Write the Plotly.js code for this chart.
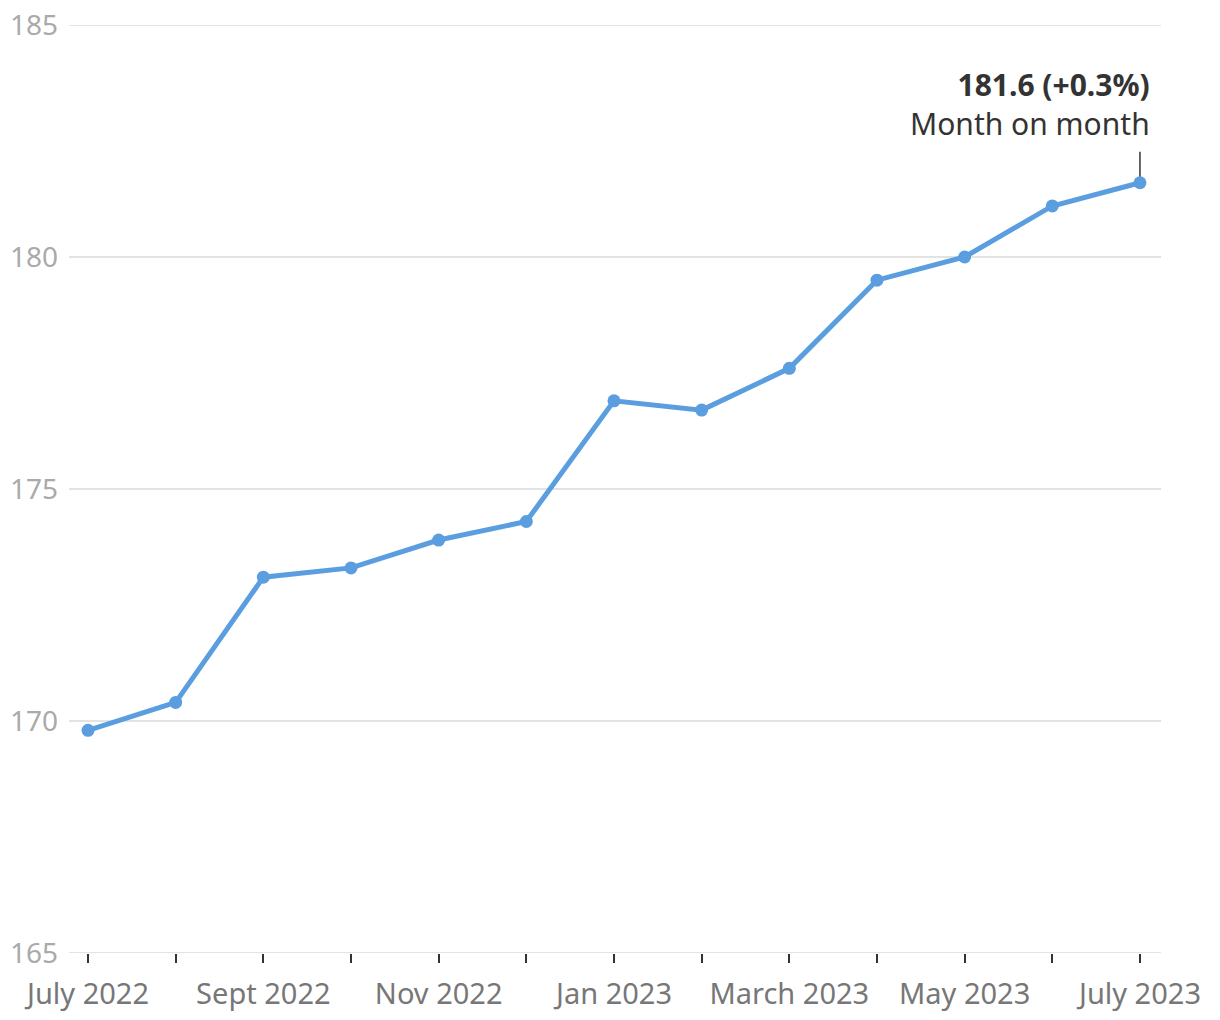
<!DOCTYPE html>
<html>
<head>
<meta charset="utf-8">
<script src="https://cdn.plot.ly/plotly-3.0.1.min.js"></script>
<style>html,body{margin:0;padding:0;background:#fff;}#chart{width:1220px;height:1020px;}</style>
</head>
<body>
<div id="chart"></div>
<script>
const months = ["Jul 2022","Aug 2022","Sep 2022","Oct 2022","Nov 2022","Dec 2022","Jan 2023","Feb 2023","Mar 2023","Apr 2023","May 2023","Jun 2023","Jul 2023"];
const values = [169.8,170.4,173.1,173.3,173.9,174.3,176.9,176.7,177.6,179.5,180.0,181.1,181.6];
const tickLabels = ["July 2022","","Sept 2022","","Nov 2022","","Jan 2023","","March 2023","","May 2023","","July 2023"];
const yTicks = [165,170,175,180,185];
const annoValue = "181.6 (+0.3%)";
const annoSub = "Month on month";

const idx = months.map((m,i)=>i);
const last = idx.length-1;
const font = "Noto Sans, Roboto, sans-serif";

const trace = {
  x: idx, y: values, type: "scatter", mode: "lines+markers",
  line: {color: "#5b9ee0", width: 5},
  marker: {color: "#5b9ee0", size: 13},
  hoverinfo: "skip"
};

const gridShapes = yTicks.filter(v => v === 165 || v === 185).map(v => ({
  type: "line", xref: "paper", yref: "y", x0: 0, x1: 1, y0: v, y1: v,
  line: {color: "#e3e3e3", width: 2}, layer: "below"
}));

const layout = {
  width: 1220, height: 1020,
  margin: {l: 69, r: 59, t: 25, b: 67},
  paper_bgcolor: "#fff", plot_bgcolor: "#fff",
  showlegend: false,
  font: {family: font},
  xaxis: {
    range: [-0.217, 12.24],
    tickvals: idx, ticktext: tickLabels,
    ticks: "outside", ticklen: 9, tickwidth: 2, tickcolor: "#333",
    ticklabelstandoff: 6,
    showgrid: false, zeroline: false, showline: false,
    tickfont: {size: 29, color: "#777", family: font},
    fixedrange: true
  },
  yaxis: {
    range: [165, 185],
    tickvals: yTicks,
    showgrid: true, gridcolor: "#e3e3e3", gridwidth: 2,
    zeroline: false, showline: false, ticks: "",
    ticklabelstandoff: 10,
    tickfont: {size: 28, color: "#aaa", family: font},
    fixedrange: true
  },
  shapes: gridShapes.concat([{
    type: "line", xref: "x", yref: "y",
    x0: last, x1: last, y0: values[last], y1: values[last] + 0.67,
    line: {color: "#333", width: 1.5}, layer: "below"
  }]),
  annotations: [{
    xref: "x", yref: "y", x: last, y: values[last] + 0.67,
    xanchor: "right", yanchor: "bottom", xshift: 12, yshift: 6,
    align: "right", showarrow: false,
    text: "<b>" + annoValue + "</b><br>" + annoSub,
    font: {size: 30, color: "#333", family: font}
  }]
};

Plotly.newPlot("chart", [trace], layout, {displayModeBar: false, staticPlot: true});
</script>
</body>
</html>
